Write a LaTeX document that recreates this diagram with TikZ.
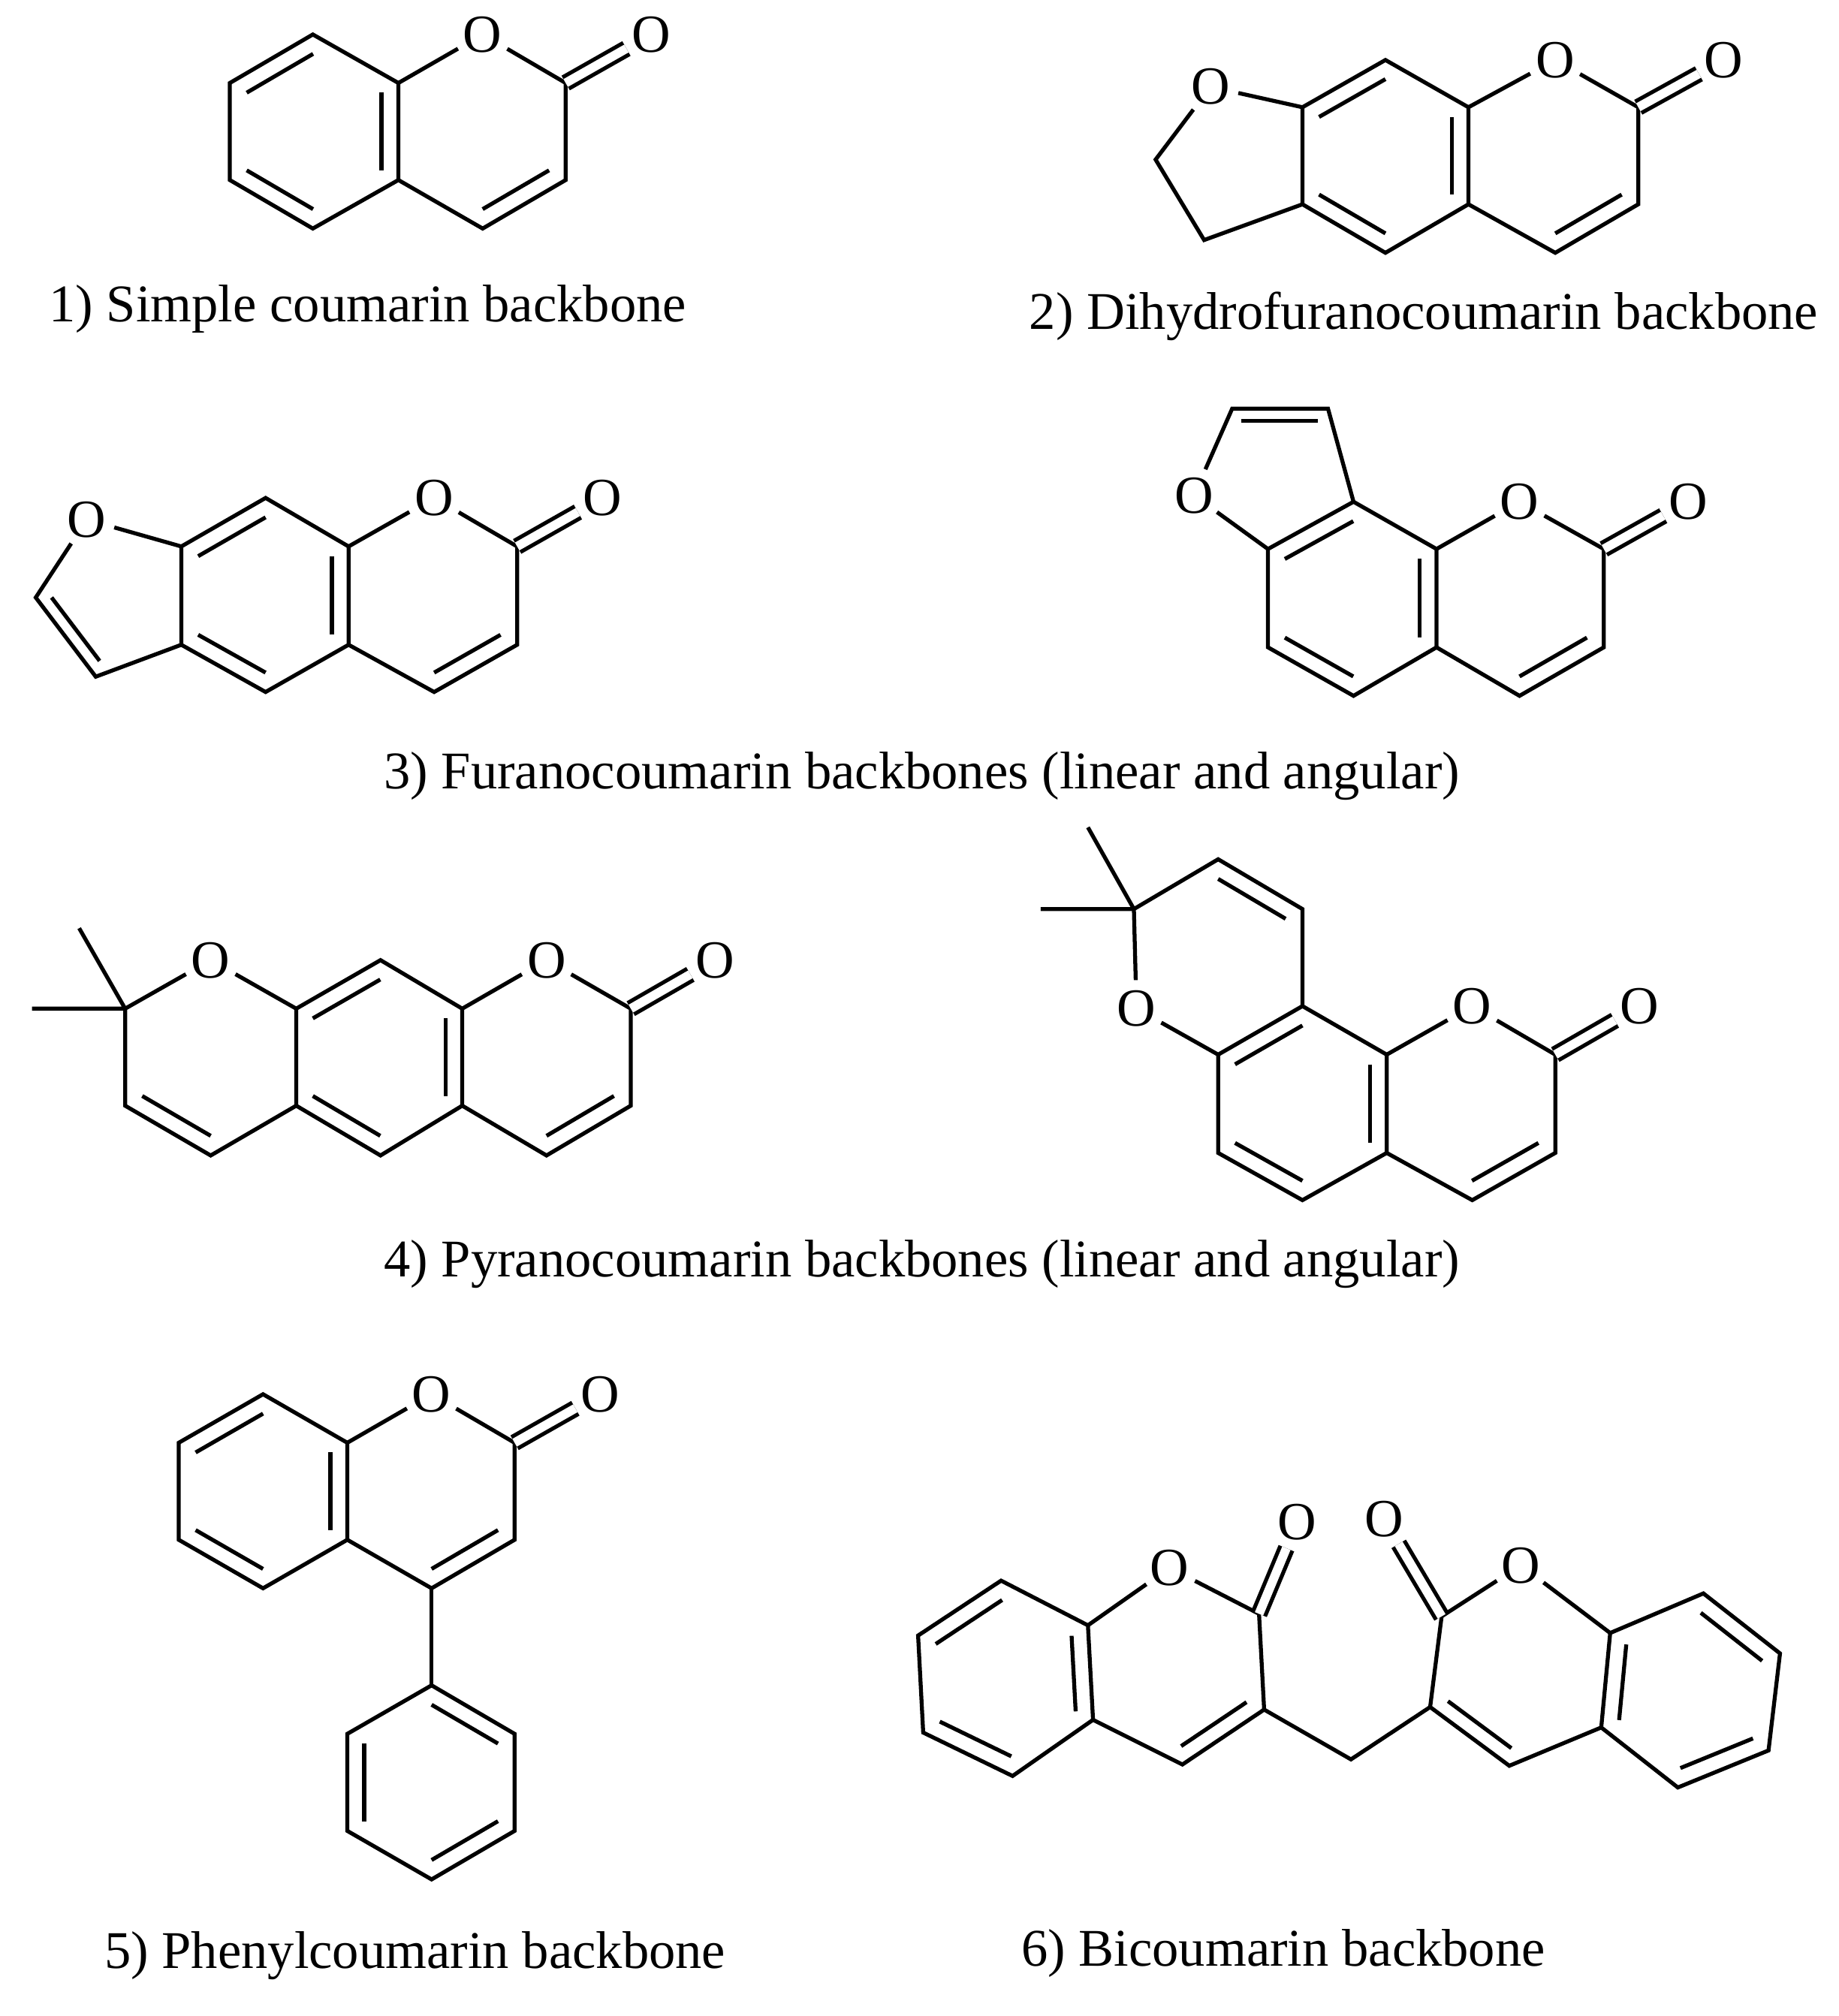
\documentclass[tikz,border=0pt]{standalone}
\usepackage{fontspec}
\setmainfont{Liberation Serif}
\usetikzlibrary{calc}
\tikzset{
 bond/.style={line width=3.1pt,line cap=butt,line join=miter},
 atom/.style={circle,inner sep=1pt,font=\fontsize{42}{42}\selectfont},
 lbl/.style={font=\fontsize{41.5}{44}\selectfont,inner sep=0pt},
 cod/.style={bond,double,double distance=7pt,line width=3.1pt}
}
\newcommand\inb[3]{\draw[bond] ($(#1)!0.2!(#3)$) -- ($(#2)!0.2!(#3)$);}
\begin{document}
\begin{tikzpicture}[x=1pt,y=-1pt]
\useasboundingbox (0,0) rectangle (1440,1579);
% ---------- 1
\coordinate (a1) at (180,65); \coordinate (a2) at (245,27); \coordinate (a3) at (312,65);
\coordinate (a4) at (312,141); \coordinate (a5) at (245,179); \coordinate (a6) at (180,141);
\node[atom] (aO) at (378,27) {O}; \coordinate (a7) at (443,65); \coordinate (a8) at (443,141);
\coordinate (a9) at (378,179); \node[atom] (aX) at (510,27) {O};
\coordinate (ac1) at (246,103); \coordinate (ac2) at (378,103);
\draw[bond] (a1)--(a2)--(a3)--(a4)--(a5)--(a6)--cycle;
\draw[bond] (a3)--(aO)--(a7)--(a8)--(a9)--(a4);
\draw[cod] (a7)--(aX);
\inb{a1}{a2}{ac1}\inb{a5}{a6}{ac1}\inb{a3}{a4}{ac1}\inb{a8}{a9}{ac2}
\node[lbl] (l1) at (288,242) {1) Simple coumarin backbone};
% ---------- 2
\coordinate (b1) at (1020,84); \coordinate (b2) at (1085,47); \coordinate (b3) at (1150,84);
\coordinate (b4) at (1150,160); \coordinate (b5) at (1085,198); \coordinate (b6) at (1020,160);
\node[atom] (bO) at (1218,47) {O}; \coordinate (b7) at (1283,84); \coordinate (b8) at (1283,160);
\coordinate (b9) at (1218,198); \node[atom] (bX) at (1350,47) {O};
\node[atom] (bF) at (948,68) {O}; \coordinate (b10) at (905,125); \coordinate (b11) at (943,188);
\coordinate (bc1) at (1085,122); \coordinate (bc2) at (1218,122);
\draw[bond] (b1)--(b2)--(b3)--(b4)--(b5)--(b6)--cycle;
\draw[bond] (b3)--(bO)--(b7)--(b8)--(b9)--(b4);
\draw[bond] (b1)--(bF)--(b10)--(b11)--(b6);
\draw[cod] (b7)--(bX);
\inb{b1}{b2}{bc1}\inb{b5}{b6}{bc1}\inb{b3}{b4}{bc1}\inb{b8}{b9}{bc2}
\node[lbl] (l2) at (1115,248) {2) Dihydrofuranocoumarin backbone};
% ---------- 3 linear
\coordinate (c1) at (142,428); \coordinate (c2) at (208,390); \coordinate (c3) at (273,428);
\coordinate (c4) at (273,505); \coordinate (c5) at (208,542); \coordinate (c6) at (142,505);
\node[atom] (cO) at (340,390) {O}; \coordinate (c7) at (405,428); \coordinate (c8) at (405,505);
\coordinate (c9) at (340,542); \node[atom] (cX) at (472,390) {O};
\node[atom] (cF) at (68,407) {O}; \coordinate (c10) at (28,468); \coordinate (c11) at (75,530);
\coordinate (cc1) at (208,466); \coordinate (cc2) at (340,466); \coordinate (cc3) at (90,468);
\draw[bond] (c1)--(c2)--(c3)--(c4)--(c5)--(c6)--cycle;
\draw[bond] (c3)--(cO)--(c7)--(c8)--(c9)--(c4);
\draw[bond] (c1)--(cF)--(c10)--(c11)--(c6);
\draw[cod] (c7)--(cX);
\inb{c1}{c2}{cc1}\inb{c5}{c6}{cc1}\inb{c3}{c4}{cc1}\inb{c8}{c9}{cc2}\inb{c10}{c11}{cc3}
% ---------- 3 angular
\coordinate (d1) at (993,430); \coordinate (d2) at (1060,393); \coordinate (d3) at (1125,430);
\coordinate (d4) at (1125,507); \coordinate (d5) at (1060,545); \coordinate (d6) at (993,507);
\node[atom] (dO) at (1190,393) {O}; \coordinate (d7) at (1256,430); \coordinate (d8) at (1256,507);
\coordinate (d9) at (1190,545); \node[atom] (dX) at (1322,393) {O};
\node[atom] (dF) at (935,388) {O}; \coordinate (d10) at (965,320); \coordinate (d11) at (1040,320);
\coordinate (dc1) at (1059,469); \coordinate (dc2) at (1190,469); \coordinate (dc3) at (1000,368);
\draw[bond] (d1)--(d2)--(d3)--(d4)--(d5)--(d6)--cycle;
\draw[bond] (d3)--(dO)--(d7)--(d8)--(d9)--(d4);
\draw[bond] (d1)--(dF)--(d10)--(d11)--(d2);
\draw[cod] (d7)--(dX);
\inb{d1}{d2}{dc1}\inb{d5}{d6}{dc1}\inb{d3}{d4}{dc1}\inb{d8}{d9}{dc2}\inb{d10}{d11}{dc3}
\node[lbl] (l3) at (722,608) {3) Furanocoumarin backbones (linear and angular)};
% ---------- 4 linear
\coordinate (e1) at (232,790); \coordinate (e2) at (298,752); \coordinate (e3) at (362,790);
\coordinate (e4) at (362,866); \coordinate (e5) at (298,905); \coordinate (e6) at (232,866);
\node[atom] (eO) at (428,752) {O}; \coordinate (e7) at (494,790); \coordinate (e8) at (494,866);
\coordinate (e9) at (428,905); \node[atom] (eX) at (560,752) {O};
\node[atom] (eP) at (165,752) {O}; \coordinate (e10) at (98,790); \coordinate (e11) at (98,866);
\coordinate (e12) at (165,905); \coordinate (em1) at (62,727); \coordinate (em2) at (25,790);
\coordinate (ec1) at (297,828); \coordinate (ec2) at (428,828); \coordinate (ec3) at (165,828);
\draw[bond] (e1)--(e2)--(e3)--(e4)--(e5)--(e6)--cycle;
\draw[bond] (e3)--(eO)--(e7)--(e8)--(e9)--(e4);
\draw[bond] (e1)--(eP)--(e10)--(e11)--(e12)--(e6);
\draw[bond] (e10)--(em1) (e10)--(em2);
\draw[cod] (e7)--(eX);
\inb{e1}{e2}{ec1}\inb{e5}{e6}{ec1}\inb{e3}{e4}{ec1}\inb{e8}{e9}{ec2}\inb{e11}{e12}{ec3}
% ---------- 4 angular
\coordinate (f1) at (954,826); \coordinate (f2) at (1020,788); \coordinate (f3) at (1086,826);
\coordinate (f4) at (1086,903); \coordinate (f5) at (1020,940); \coordinate (f6) at (954,903);
\node[atom] (fO) at (1153,788) {O}; \coordinate (f7) at (1218,826); \coordinate (f8) at (1218,903);
\coordinate (f9) at (1153,940); \node[atom] (fX) at (1284,788) {O};
\node[atom] (fP) at (890,790) {O}; \coordinate (f10) at (888,712); \coordinate (f11) at (954,673);
\coordinate (f12) at (1020,712); \coordinate (fm1) at (852,648); \coordinate (fm2) at (815,712);
\coordinate (fc1) at (1020,864); \coordinate (fc2) at (1152,864); \coordinate (fc3) at (954,750);
\draw[bond] (f1)--(f2)--(f3)--(f4)--(f5)--(f6)--cycle;
\draw[bond] (f3)--(fO)--(f7)--(f8)--(f9)--(f4);
\draw[bond] (f1)--(fP)--(f10)--(f11)--(f12)--(f2);
\draw[bond] (f10)--(fm1) (f10)--(fm2);
\draw[cod] (f7)--(fX);
\inb{f1}{f2}{fc1}\inb{f5}{f6}{fc1}\inb{f3}{f4}{fc1}\inb{f8}{f9}{fc2}\inb{f11}{f12}{fc3}
\node[lbl] (l4) at (722,990) {4) Pyranocoumarin backbones (linear and angular)};
% ---------- 5
\coordinate (g1) at (140,1130); \coordinate (g2) at (206,1092); \coordinate (g3) at (272,1130);
\coordinate (g4) at (272,1206); \coordinate (g5) at (206,1244); \coordinate (g6) at (140,1206);
\node[atom] (gO) at (338,1092) {O}; \coordinate (g7) at (403,1130); \coordinate (g8) at (403,1206);
\coordinate (g9) at (338,1244); \node[atom] (gX) at (470,1092) {O};
\coordinate (h1) at (338,1320); \coordinate (h2) at (403,1358); \coordinate (h3) at (403,1434);
\coordinate (h4) at (338,1472); \coordinate (h5) at (272,1434); \coordinate (h6) at (272,1358);
\coordinate (gc1) at (206,1168); \coordinate (gc2) at (338,1168); \coordinate (hc) at (338,1396);
\draw[bond] (g1)--(g2)--(g3)--(g4)--(g5)--(g6)--cycle;
\draw[bond] (g3)--(gO)--(g7)--(g8)--(g9)--(g4);
\draw[bond] (h1)--(h2)--(h3)--(h4)--(h5)--(h6)--cycle;
\draw[bond] (g9)--(h1);
\draw[cod] (g7)--(gX);
\inb{g1}{g2}{gc1}\inb{g5}{g6}{gc1}\inb{g3}{g4}{gc1}\inb{g8}{g9}{gc2}
\inb{h1}{h2}{hc}\inb{h3}{h4}{hc}\inb{h5}{h6}{hc}
\node[lbl] (l5) at (325,1532) {5) Phenylcoumarin backbone};
% ---------- 6
\coordinate (k1) at (784,1238); \coordinate (k2) at (852,1273); \coordinate (k3) at (856,1347);
\coordinate (k4) at (793,1391); \coordinate (k5) at (723,1357); \coordinate (k6) at (719,1281);
\node[atom] (kO) at (916,1228) {O}; \coordinate (k7) at (986,1264); \node[atom] (kX) at (1016,1192) {O};
\coordinate (k8) at (990,1339); \coordinate (k9) at (926,1382); \coordinate (km) at (1058,1378);
\coordinate (m8) at (1120,1337); \coordinate (m7) at (1129,1266); \node[atom] (mX) at (1084,1190) {O};
\node[atom] (mO) at (1191,1226) {O}; \coordinate (m3) at (1261,1279); \coordinate (m4) at (1254,1353);
\coordinate (m9) at (1182,1383); \coordinate (m1) at (1334,1248); \coordinate (m2) at (1394,1295);
\coordinate (m5) at (1385,1371); \coordinate (m6) at (1314,1400);
\coordinate (kc1) at (788,1314); \coordinate (kc2) at (921,1310); \coordinate (mc2) at (1190,1314); \coordinate (mc1) at (1324,1324);
\draw[bond] (k1)--(k2)--(k3)--(k4)--(k5)--(k6)--cycle;
\draw[bond] (k2)--(kO)--(k7)--(k8)--(k9)--(k3);
\draw[bond] (k8)--(km)--(m8);
\draw[bond] (m3)--(mO)--(m7)--(m8)--(m9)--(m4);
\draw[bond] (m3)--(m1)--(m2)--(m5)--(m6)--(m4)--cycle;
\draw[cod] (k7)--(kX); \draw[cod] (m7)--(mX);
\inb{k1}{k6}{kc1}\inb{k4}{k5}{kc1}\inb{k2}{k3}{kc1}\inb{k8}{k9}{kc2}
\inb{m8}{m9}{mc2}\inb{m3}{m4}{mc1}\inb{m1}{m2}{mc1}\inb{m5}{m6}{mc1}
\node[lbl] (l6) at (1005,1530) {6) Bicoumarin backbone};
\end{tikzpicture}
\end{document}
